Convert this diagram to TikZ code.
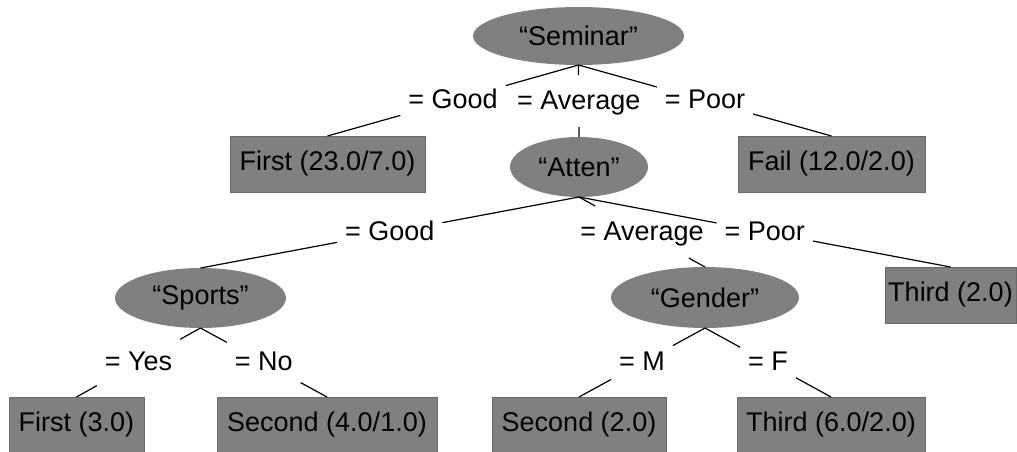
\documentclass[tikz,border=0pt]{standalone}
\usepackage{fontspec}
\setmainfont{Liberation Sans}
\usetikzlibrary{shapes.geometric}
\definecolor{nodegray}{HTML}{808080}
\definecolor{edgegray}{HTML}{6A6A6A}
\begin{document}
\begin{tikzpicture}[x=1pt,y=-1pt,
  every node/.style={font=\fontsize{27}{31}\selectfont, text=black},
  attr/.style={ellipse, fill=nodegray, inner sep=0pt, outer sep=0pt, minimum width=#1, minimum height=60pt},
  leaf/.style={rectangle, fill=nodegray, draw=edgegray, line width=0.8pt, inner sep=0pt, outer sep=0pt, minimum width=#1, minimum height=56pt},
  edge/.style={draw=black, line width=1.2pt},
  elabel/.style={inner xsep=8pt, inner ysep=13pt, outer sep=0pt, text height=21pt, text depth=5pt}
]
\useasboundingbox (0,0) rectangle (1017,452);
% nodes
\node[attr=211pt, minimum height=58pt] (sem) at (578.5,36) {“Seminar”};
\node[attr=138pt] (att) at (579,167) {“Atten”};
\node[attr=171pt] (spo) at (200.5,298) {“Sports”};
\node[attr=188pt, minimum height=61pt] (gen) at (705,297.5) {“Gender”};
\node[leaf=195pt] (f1) at (327.5,164) {First (23.0/7.0)};
\node[leaf=187pt] (fail) at (831.5,164) {Fail (12.0/2.0)};
\node[leaf=131pt] (t2) at (950.5,295) {Third (2.0)};
\node[leaf=135pt] (f3) at (76.5,425) {First (3.0)};
\node[leaf=220pt] (s41) at (327,425) {Second (4.0/1.0)};
\node[leaf=174pt] (s2) at (579,425) {Second (2.0)};
\node[leaf=188pt] (t62) at (831,425) {Third (6.0/2.0)};
% edge labels at the midpoints
\path (sem.south) -- (f1.north) node[midway, elabel] (l1) {= Good};
\path (sem.south) -- (att.north) node[midway, elabel] (l2) {= Average};
\path (sem.south) -- (fail.north) node[midway, elabel] (l3) {= Poor};
\path (att.south) -- (spo.north) node[midway, elabel] (l4) {= Good};
\path (att.south) -- (gen.north) node[midway, elabel] (l5) {= Average};
\path (att.south) -- (t2.north) node[midway, elabel] (l6) {= Poor};
\path (spo.south) -- (f3.north) node[midway, elabel] (l7) {= Yes};
\path (spo.south) -- (s41.north) node[midway, elabel] (l8) {= No};
\path (gen.south) -- (s2.north) node[midway, elabel] (l9) {= M};
\path (gen.south) -- (t62.north) node[midway, elabel] (l10) {= F};
% edges, broken by their own labels
\draw[edge] (sem.south) -- (l1) -- (f1.north);
\draw[edge] (sem.south) -- (l2) -- (att.north);
\draw[edge] (sem.south) -- (l3) -- (fail.north);
\draw[edge] (att.south) -- (l4) -- (spo.north);
\draw[edge] (att.south) -- (l5) -- (gen.north);
\draw[edge] (att.south) -- (l6) -- (t2.north);
\draw[edge] (spo.south) -- (l7) -- (f3.north);
\draw[edge] (spo.south) -- (l8) -- (s41.north);
\draw[edge] (gen.south) -- (l9) -- (s2.north);
\draw[edge] (gen.south) -- (l10) -- (t62.north);
\end{tikzpicture}
\end{document}
